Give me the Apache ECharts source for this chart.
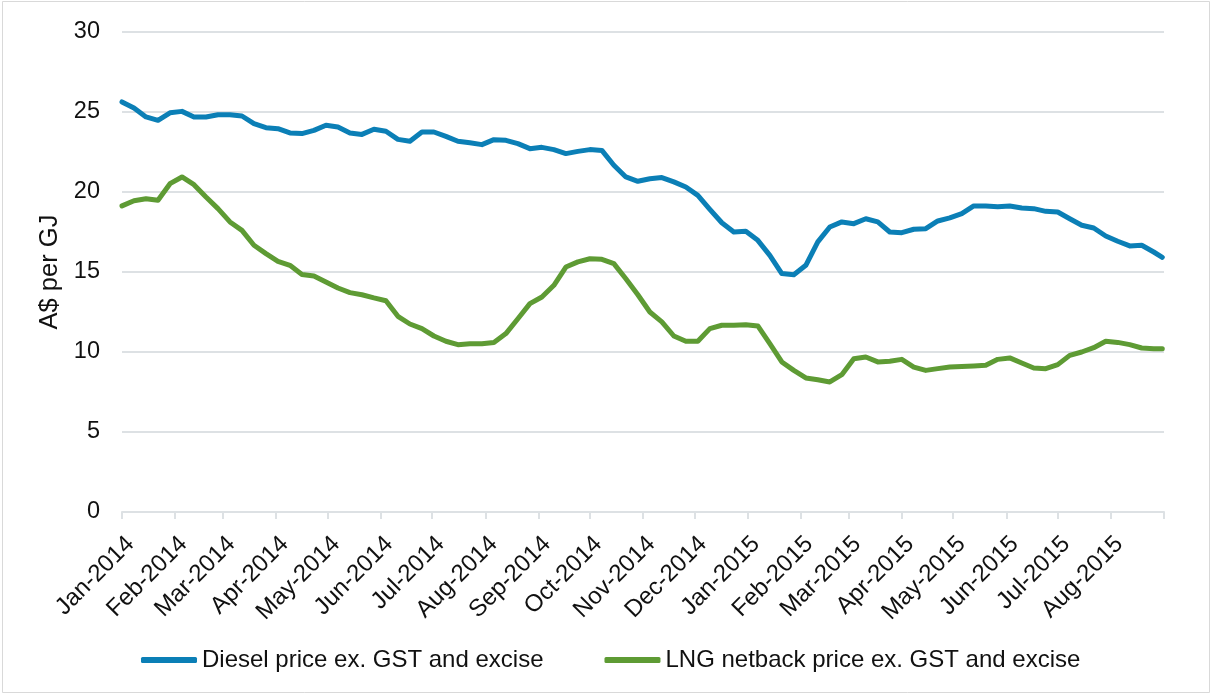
<!DOCTYPE html>
<html>
<head>
<meta charset="utf-8">
<script src="https://cdn.jsdelivr.net/npm/echarts@6/dist/echarts.min.js"></script>
<style>
  html, body { margin: 0; padding: 0; background: #fff; }
  #chart { width: 1212px; height: 695px; }
</style>
</head>
<body>
<div id="chart"></div>
<script>
// Weekly observation dates (plus the final day of the series)
const dates = [
  '2014-01-01','2014-01-08','2014-01-15','2014-01-22','2014-01-29','2014-02-05','2014-02-12','2014-02-19','2014-02-26',
  '2014-03-05','2014-03-12','2014-03-19','2014-03-26','2014-04-02','2014-04-09','2014-04-16','2014-04-23','2014-04-30',
  '2014-05-07','2014-05-14','2014-05-21','2014-05-28','2014-06-04','2014-06-11','2014-06-18','2014-06-25','2014-07-02',
  '2014-07-09','2014-07-16','2014-07-23','2014-07-30','2014-08-06','2014-08-13','2014-08-20','2014-08-27','2014-09-03',
  '2014-09-10','2014-09-17','2014-09-24','2014-10-01','2014-10-08','2014-10-15','2014-10-22','2014-10-29','2014-11-05',
  '2014-11-12','2014-11-19','2014-11-26','2014-12-03','2014-12-10','2014-12-17','2014-12-24','2014-12-31','2015-01-07',
  '2015-01-14','2015-01-21','2015-01-28','2015-02-04','2015-02-11','2015-02-18','2015-02-25','2015-03-04','2015-03-11',
  '2015-03-18','2015-03-25','2015-04-01','2015-04-08','2015-04-15','2015-04-22','2015-04-29','2015-05-06','2015-05-13',
  '2015-05-20','2015-05-27','2015-06-03','2015-06-10','2015-06-17','2015-06-24','2015-07-01','2015-07-08','2015-07-15',
  '2015-07-22','2015-07-29','2015-08-05','2015-08-12','2015-08-19','2015-08-26','2015-08-31'
];

// Diesel price ex. GST and excise, A$ per GJ
const diesel = [
  25.63, 25.25, 24.69, 24.48, 24.95, 25.04, 24.69, 24.69, 24.83,
  24.83, 24.75, 24.27, 24.02, 23.96, 23.69, 23.65, 23.85, 24.17,
  24.06, 23.69, 23.60, 23.92, 23.80, 23.29, 23.17, 23.75, 23.75,
  23.48, 23.17, 23.08, 22.96, 23.27, 23.23, 23.02, 22.71, 22.79,
  22.65, 22.40, 22.54, 22.65, 22.60, 21.67, 20.94, 20.67, 20.83,
  20.90, 20.63, 20.31, 19.79, 18.92, 18.08, 17.50, 17.54, 16.98,
  16.04, 14.90, 14.83, 15.42, 16.88, 17.81, 18.13, 18.02, 18.33,
  18.13, 17.50, 17.46, 17.67, 17.71, 18.19, 18.38, 18.65, 19.13,
  19.13, 19.08, 19.13, 19.00, 18.96, 18.79, 18.75, 18.33, 17.92,
  17.75, 17.25, 16.92, 16.63, 16.67, 16.25, 15.92
];

// LNG netback price ex. GST and excise, A$ per GJ
const lng = [
  19.13, 19.45, 19.58, 19.48, 20.52, 20.94, 20.46, 19.69, 18.96,
  18.13, 17.60, 16.67, 16.15, 15.67, 15.42, 14.85, 14.75, 14.38,
  14.00, 13.71, 13.58, 13.38, 13.20, 12.23, 11.75, 11.46, 11.00,
  10.67, 10.46, 10.52, 10.52, 10.60, 11.15, 12.08, 13.02, 13.44,
  14.17, 15.31, 15.63, 15.83, 15.79, 15.52, 14.58, 13.58, 12.50,
  11.88, 11.00, 10.67, 10.67, 11.46, 11.67, 11.67, 11.71, 11.63,
  10.52, 9.38, 8.85, 8.38, 8.27, 8.13, 8.58, 9.58, 9.69,
  9.38, 9.42, 9.54, 9.06, 8.85, 8.96, 9.06, 9.10, 9.13,
  9.17, 9.54, 9.63, 9.31, 9.00, 8.96, 9.21, 9.79, 10.00,
  10.27, 10.67, 10.60, 10.46, 10.25, 10.21, 10.21
];

// Month starts used for ticks and labels
const monthStarts = [
  '2014-01-01','2014-02-01','2014-03-01','2014-04-01','2014-05-01','2014-06-01','2014-07-01','2014-08-01',
  '2014-09-01','2014-10-01','2014-11-01','2014-12-01','2015-01-01','2015-02-01','2015-03-01','2015-04-01',
  '2015-05-01','2015-06-01','2015-07-01','2015-08-01'
];
const monthLabels = [
  'Jan-2014','Feb-2014','Mar-2014','Apr-2014','May-2014','Jun-2014','Jul-2014','Aug-2014',
  'Sep-2014','Oct-2014','Nov-2014','Dec-2014','Jan-2015','Feb-2015','Mar-2015','Apr-2015',
  'May-2015','Jun-2015','Jul-2015','Aug-2015'
];
const axisStart = '2014-01-01';
const axisEnd = '2015-09-01';

const seriesNames = ['Diesel price ex. GST and excise', 'LNG netback price ex. GST and excise'];
const yTitle = 'A$ per GJ';

// Day offset from the start of the axis
function dayOf(s) {
  const p = s.split('-').map(Number);
  const q = axisStart.split('-').map(Number);
  return Math.round((Date.UTC(p[0], p[1] - 1, p[2]) - Date.UTC(q[0], q[1] - 1, q[2])) / 86400000);
}
const xDays = dates.map(dayOf);
const tickDays = monthStarts.map(dayOf);
const endDay = dayOf(axisEnd);
const labelByDay = {};
tickDays.forEach((d, i) => { labelByDay[d] = monthLabels[i]; });

const FONT = '"Liberation Sans", Arial, sans-serif';
const GRID_COLOR = '#dde1e4';
const BLUE = '#0b7fb6';
const GREEN = '#5e9b34';

const chart = echarts.init(document.getElementById('chart'), null, { renderer: 'canvas' });
chart.setOption({
  animation: false,
  backgroundColor: '#fff',
  textStyle: { fontFamily: FONT },
  graphic: [{
    type: 'rect',
    shape: { x: 2.5, y: 1.5, width: 1207, height: 691 },
    style: { fill: 'none', stroke: '#d9d9d9', lineWidth: 1 },
    silent: true
  }],
  grid: { left: 122, right: 48, top: 32, bottom: 183 },
  legend: {
    left: 136,
    top: 643,
    itemWidth: 56,
    itemHeight: 6,
    itemGap: 61,
    icon: 'roundRect',
    textStyle: { fontSize: 24, color: '#111', fontFamily: FONT },
    data: seriesNames
  },
  xAxis: {
    type: 'value',
    min: 0,
    max: endDay,
    splitLine: { show: false },
    axisLine: { show: true, lineStyle: { color: GRID_COLOR, width: 2 } },
    axisTick: {
      show: true,
      customValues: tickDays.concat([endDay]),
      length: 7,
      lineStyle: { color: GRID_COLOR, width: 2 }
    },
    axisLabel: {
      customValues: tickDays,
      rotate: 45,
      margin: 20,
      align: 'right',
      verticalAlign: 'top',
      fontSize: 24,
      color: '#111',
      fontFamily: FONT,
      formatter: v => labelByDay[v] || ''
    }
  },
  yAxis: {
    type: 'value',
    min: 0,
    max: 30,
    interval: 5,
    name: yTitle,
    nameLocation: 'middle',
    nameGap: 59,
    nameTextStyle: { fontSize: 25.5, color: '#111', fontFamily: FONT },
    axisLine: { show: false },
    axisTick: { show: false },
    axisLabel: { margin: 22, fontSize: 23.5, color: '#111', fontFamily: FONT },
    splitLine: { show: true, lineStyle: { color: GRID_COLOR, width: 2 } }
  },
  series: [
    {
      name: seriesNames[0],
      type: 'line',
      showSymbol: false,
      color: BLUE,
      lineStyle: { width: 5, color: BLUE, cap: 'round', join: 'round' },
      data: xDays.map((d, i) => [d, diesel[i]])
    },
    {
      name: seriesNames[1],
      type: 'line',
      showSymbol: false,
      color: GREEN,
      lineStyle: { width: 5, color: GREEN, cap: 'round', join: 'round' },
      data: xDays.map((d, i) => [d, lng[i]])
    }
  ]
});
</script>
</body>
</html>
